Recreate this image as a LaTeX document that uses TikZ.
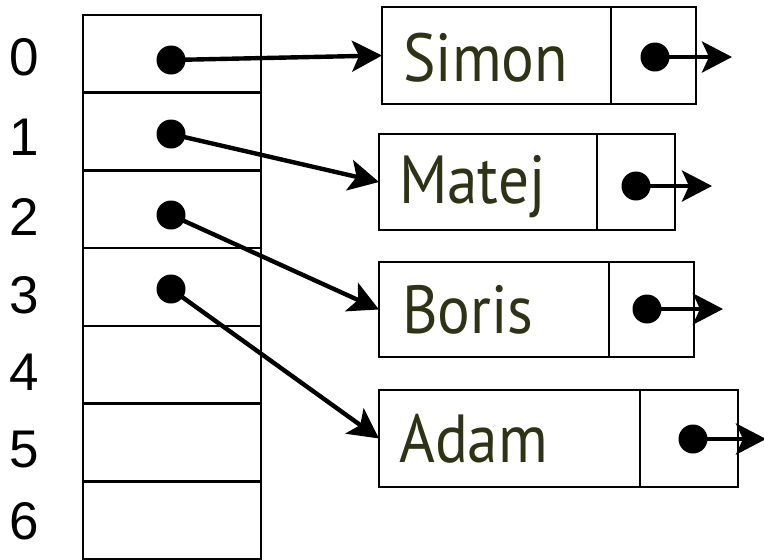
\documentclass[tikz,border=0pt]{standalone}
\usepackage{fontspec}
\setmainfont{Liberation Sans}
\newfontfamily\namefont{PT Sans}
\usetikzlibrary{arrows.meta}
\definecolor{olive}{RGB}{47,51,22}
\begin{document}
\begin{tikzpicture}[x=1pt,y=-1pt,
  cell/.style={draw,line width=2.6pt,minimum width=178pt,minimum height=77.7pt,inner sep=0pt,outer sep=0pt},
  idx/.style={font=\fontsize{53}{53}\selectfont,inner sep=0pt},
  dot/.style={circle,fill=black,minimum size=29pt,inner sep=0pt,outer sep=0pt},
  part/.style={draw,line width=2.6pt,anchor=north west,inner sep=0pt,outer sep=0pt},
  nm/.style={font=\namefont\fontsize{68}{68}\selectfont,text=olive,anchor=base west,inner sep=0pt},
  ptr/.style={line width=4.4pt,-{Stealth[length=30pt,width=31pt,inset=7pt]}}]
\useasboundingbox (0,0) rectangle (764,560);
% table
\foreach \i in {0,...,6}{
  \node[cell] (c\i) at (172,{15+77.7*(\i+0.5)}) {};
}
\node[idx] (i0) at (24.5,57) {0};
\node[idx] (i1) at (24.5,137) {1};
\node[idx] (i2) at (24.5,217) {2};
\node[idx] (i3) at (24.5,295) {3};
\node[idx] (i4) at (24.5,372) {4};
\node[idx] (i5) at (24.5,450) {5};
\node[idx] (i6) at (24.5,521) {6};
\node[dot] (d0) at (171,60) {};
\node[dot] (d1) at (171,134) {};
\node[dot] (d2) at (171,215) {};
\node[dot] (d3) at (171,289) {};
% list boxes
\node[part,minimum width=229pt,minimum height=97pt] (simon) at (382,7) {};
\node[part,minimum width=85pt,minimum height=97pt] (simonp) at (611,7) {};
\node[part,minimum width=218pt,minimum height=96pt] (matej) at (379,134) {};
\node[part,minimum width=78pt,minimum height=96pt] (matejp) at (597,134) {};
\node[part,minimum width=230pt,minimum height=95pt] (boris) at (379,262) {};
\node[part,minimum width=85pt,minimum height=95pt] (borisp) at (609,262) {};
\node[part,minimum width=261pt,minimum height=97pt] (adam) at (379,390) {};
\node[part,minimum width=98pt,minimum height=97pt] (adamp) at (640,390) {};
\node[nm] (tsimon) at (403,81) {\scalebox{0.9}[1]{Simon}};
\node[nm] (tmatej) at (399,203) {\scalebox{0.9}[1]{Matej}};
\node[nm] (tboris) at (402,333) {\scalebox{0.9}[1]{Boris}};
\node[nm] (tadam) at (399,462) {\scalebox{0.9}[1]{Adam}};
\node[dot] (ps) at (655,57) {};
\node[dot] (pm) at (636,186) {};
\node[dot] (pb) at (647,309) {};
\node[dot] (pa) at (693,439) {};
\coordinate (es) at (732,57);
\coordinate (em) at (712,186);
\coordinate (eb) at (723,309);
\coordinate (ea) at (766,439);
% connectors
\draw[ptr] (d0.center) -- (simon.west);
\draw[ptr] (d1.center) -- (matej.west);
\draw[ptr] (d2.center) -- (boris.west);
\draw[ptr] (d3.center) -- (adam.west);
\draw[ptr] (ps.center) -- (es);
\draw[ptr] (pm.center) -- (em);
\draw[ptr] (pb.center) -- (eb);
\draw[ptr] (pa.center) -- (ea);
\end{tikzpicture}
\end{document}
